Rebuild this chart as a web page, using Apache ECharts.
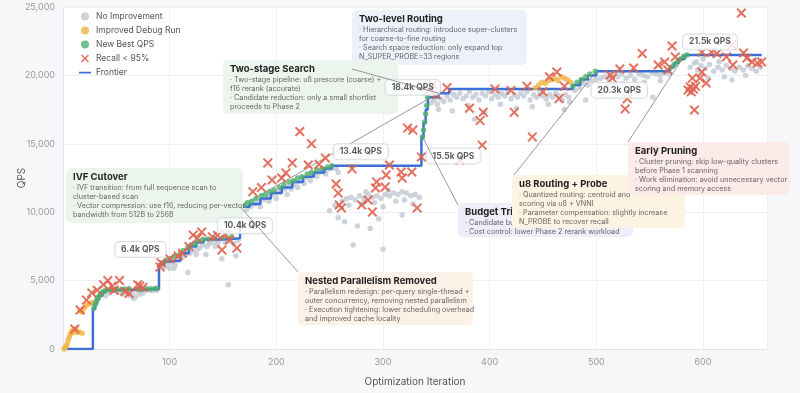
<!DOCTYPE html>
<html><head><meta charset="utf-8">
<script src="https://cdn.jsdelivr.net/npm/echarts@6/dist/echarts.min.js"></script>
<style>html,body{margin:0;padding:0;background:#f6f7f9}#c{width:800px;height:393px}</style>
</head><body><div id="c"></div><script>
// ---------- DATA ----------
const frontier=[[3,0],[28,2900],[30,3300],[32,3600],[34,3900],[37,4150],[40,4300],[48,4380],[90,6200],[95,6400],[100,6450],[110,7000],[118,7500],[125,7800],[132,8000],[150,8100],[166,10400],[175,10600],[185,11000],[195,11400],[205,11800],[215,12200],[225,12600],[235,12900],[245,13200],[252,13400],[336,15500],[338,16500],[340,17500],[342,18400],[352,18700],[362,19000],[478,19300],[485,19700],[492,20000],[500,20300],[569,20600],[573,20900],[577,21200],[583,21500],[655,21500]];
const newBest=[[29,3000],[30,3250],[31,3450],[32,3650],[33,3800],[35,3950],[36,4100],[38,4200],[40,4300],[44,4350],[47,4300],[50,4400],[55,4350],[58,4380],[62,4400],[70,4380],[74,4350],[78,4400],[82,4400],[86,4420],[88,4420],[93,6300],[97,6500],[101,6600],[105,6800],[110,7000],[113,7200],[117,7400],[120,7600],[123,7700],[127,7850],[131,8000],[136,8050],[142,8100],[150,8150],[158,8200],[170,10500],[173,10700],[177,10800],[181,11000],[186,11200],[190,11300],[194,11500],[198,11600],[203,11800],[207,12000],[212,12200],[216,12300],[220,12500],[224,12600],[229,12800],[233,12900],[238,13100],[243,13200],[248,13300],[252,13400],[337,15500],[338,16000],[339,16600],[340,17200],[341,17800],[342,18400],[478,19200],[482,19500],[486,19700],[490,19900],[494,20100],[499,20300],[570,20600],[573,20800],[576,21000],[579,21200],[582,21400],[585,21500]];
const debugRun=[[1,0],[2,100],[3,200],[4,400],[5,700],[6,900],[7,1100],[8,1300],[9,1200],[10,1400],[12,1500],[13,1200],[15,1250],[16,2800],[18,2700],[20,3000],[22,3200],[25,3300],[27,3400],[18,1150],[443,19100],[446,19300],[449,19500],[452,19400],[455,19600],[458,19700],[461,19800],[464,19600],[467,19900],[470,19800],[473,19700],[476,19500]];
const noImprove=[[36,4000],[40,3900],[43,4100],[45,4200],[52,4150],[56,4000],[60,4100],[63,3900],[65,4050],[68,3800],[70,4200],[72,4000],[75,4100],[80,4300],[84,4250],[88,4300],[66,3700],[50,4250],
[95,6000],[98,6200],[102,6300],[104,5900],[108,6500],[112,6700],[115,6900],[117,5600],[119,7000],[122,7200],[125,6900],[128,7400],[131,7600],[134,6900],[137,7700],[140,7800],[143,7500],[146,7900],[149,6600],[152,7800],[155,4700],[157,7900],[160,7700],[162,6800],[164,7950],[126,7300],[135,7500],[145,7700],[154,7850],[105,6100],[100,5900],
[172,10200],[176,10400],[180,10600],[184,10700],[188,10900],[192,11100],[196,11300],[200,11400],[204,11500],[208,11700],[212,11900],[216,12000],[220,12200],[224,12400],[228,12500],[232,12700],[236,12800],[240,12900],[244,13000],[248,13100],[252,13200],[200,11000],[214,11700],[226,12100],[238,12600],[246,12800],[185,10400],[193,10800],[210,11300],[220,11800],[232,12300],[241,13000],[256,13200],[258,12900],
[262,10800],[266,11000],[270,11100],[274,10900],[278,11200],[282,11000],[286,11300],[290,11100],[294,11200],[298,11000],[302,11300],[306,11200],[310,11400],[314,11300],[318,11500],[322,11400],[326,11200],[330,11300],[334,11100],[268,10500],[280,10600],[292,10700],[300,10400],[312,10800],[320,10900],[328,10600],[258,9600],[264,9300],[276,9000],[288,8800],[296,9500],[318,9800],[272,7600],[300,7300],[250,10100],[255,10500],[284,11500],[305,11600],
[345,18000],[348,18200],[351,17900],[354,18300],[357,18100],[360,18500],[363,18200],[366,18600],[369,18400],[372,18700],[375,18300],[378,18500],[381,18800],[384,18400],[387,18600],[390,18200],[393,18700],[396,18500],[399,18800],[402,18300],[405,18600],[408,18400],[411,18700],[414,18500],[417,18800],[420,18300],[423,18600],[426,18400],[429,18700],[432,18500],[435,18800],[438,18200],[441,18600],[444,18400],[447,18700],[450,18500],[453,18300],[456,18600],[459,18400],[462,18700],[465,18500],[468,18200],[471,18600],[474,18400],[352,17500],[365,17400],[380,17800],[395,17300],[410,17900],[425,17600],[440,17700],[455,17900],[470,17500],[386,16800],
[480,18900],[484,19100],[488,19400],[492,19300],[496,19600],[500,19700],[504,19800],[508,19900],[512,19700],[516,20000],[520,19900],[524,20100],[528,19800],[532,20000],[536,19700],[540,20100],[544,20000],[548,19900],[552,20200],[556,20100],[560,20000],[564,20200],[568,20100],[539,19300],[553,18400],[475,18050],[510,19300],[525,19400],[545,19500],[560,19600],[505,18600],[490,18200],
[588,20600],[592,20900],[595,20400],[598,20700],[602,20500],[606,20800],[610,20300],[614,20600],[618,20400],[622,20700],[626,20500],[630,20300],[634,20600],[638,20400],[642,20700],[646,20500],[650,20300],[654,20600],[627,19660],[620,19900],[605,19800],[640,20000],[594,20980],[615,21000],[600,21200]];
const lowRecall=[[11,1460],[16,2850],[22,3580],[27,4100],[32,4300],[38,4700],[42,5000],[46,4600],[53,5000],[48,4300],[58,4200],[62,4050],[72,4600],[75,4500],[70,4700],
[91,6000],[92,6300],[100,6600],[108,6800],[112,7000],[118,7500],[122,8330],[126,8100],[130,8550],[140,8200],[145,8300],[149,7240],[156,7970],[163,7380],[152,8400],
[186,11800],[196,12350],[209,12870],[215,13600],[222,15900],[230,13450],[246,13960],[256,12060],[258,11400],[259,10530],[261,10310],[271,13160],[280,10530],[286,10890],[290,10010],[293,11770],[294,12210],[302,11840],[303,12720],[306,13450],[317,12940],[318,12500],[327,12940],[332,10310],[328,16000],[336,14040],[192,13600],[233,15000],[178,11500],[205,12500],[240,13500],
[323,16150],[343,18900],[347,19300],[350,18600],[372,13800],[381,17600],[391,16700],[393,14900],[394,17300],[423,17300],[440,15500],[456,19900],[465,18300],[360,19100],[405,19000],[420,18900],[435,19200],[450,18800],[470,19200],
[463,20250],[513,20030],[515,19800],[522,20470],[527,17550],[529,18300],[535,20540],[543,21600],[558,20760],[564,20980],[567,20400],[571,22150],[574,21350],
[586,18930],[588,19150],[590,19800],[591,19000],[592,17470],[589,18800],[593,19200],[597,19800],[599,20250],[599,21700],[603,19440],[608,21700],[613,21600],[622,21350],[627,22220],[628,20760],[636,24560],[638,21640],[641,21270],[646,20980],[651,20900],[655,20980]];
const milestones=[[95,6400,'6.4k QPS'],[166,10400,'10.4k QPS'],[252,13400,'13.4k QPS'],[337,15500,'15.5k QPS'],[342,18400,'18.4k QPS'],[500,20300,'20.3k QPS'],[585,21500,'21.5k QPS']];
const seriesNames=['No Improvement','Improved Debug Run','New Best QPS','Recall < 95%','Frontier'];
const annotations=[
 {title:'Two-level Routing',lines:['· Hierarchical routing: introduce super-clusters','for coarse-to-fine routing','· Search space reduction: only expand top','N_SUPER_PROBE=33 regions'],target:null},
 {title:'Two-stage Search',lines:['· Two-stage pipeline: u8 prescore (coarse) +','f16 rerank (accurate)','· Candidate reduction: only a small shortlist','proceeds to Phase 2'],target:[352,18700]},
 {title:'IVF Cutover',lines:['· IVF transition: from full sequence scan to','cluster-based scan','· Vector compression: use f16, reducing per-vector','bandwidth from 512B to 256B'],target:[352,18700]},
 {title:'Nested Parallelism Removed',lines:['· Parallelism redesign: per-query single-thread +','outer concurrency, removing nested parallelism','· Execution tightening: lower scheduling overhead','and improved cache locality'],target:[166,10400]},
 {title:'Budget Trimming',lines:['· Candidate budget: smaller Phase 2 shortlist','· Cost control: lower Phase 2 rerank workload'],target:[337,15500]},
 {title:'u8 Routing + Probe',lines:['· Quantized routing: centroid and','scoring via u8 + VNNI','· Parameter compensation: slightly increase','N_PROBE to recover recall'],target:[500,20300]},
 {title:'Early Pruning',lines:['· Cluster pruning: skip low-quality clusters','before Phase 1 scanning','· Work elimination: avoid unnecessary vector','scoring and memory access'],target:[583,21500]}
];
// ---------- LAYOUT / STYLE ----------
const boxLayout=[
 {x:352,y:10,w:175,h:55,fill:'#edf1fa',anchor:null},
 {x:223,y:60,w:175,h:54,fill:'#ecf5ed',anchor:[352,69],lineZ:40},
 {x:66,y:168,w:177,h:55,fill:'#ecf5ed',anchor:[243,205],lineZ:1},
 {x:298,y:272,w:175,h:53,fill:'#fcf1e6',anchor:[298,272],lineZ:40},
 {x:458,y:203,w:175,h:34,fill:'#efedf9',anchor:[458,205],lineZ:40},
 {x:512,y:175,w:173,h:53,fill:'#fdf3e2',anchor:[514,175],lineZ:40},
 {x:628,y:142,w:162,h:53,fill:'#fcebe8',anchor:[628,142],lineZ:40}
];
const labelOffsets=[[-24,-12],[5,19],[29,-14],[31,19],[-15,-10],[23,19],[23,-13]];
const FONT='Inter, "Noto Sans", sans-serif';
const X_SYM='path://M1.4,0L5,3.6L8.6,0L10,1.4L6.4,5L10,8.6L8.6,10L5,6.4L1.4,10L0,8.6L3.6,5L0,1.4Z';
const LINE_ICON='path://M0,0L0.01,0L0.01,0.01Z M0,8L0.01,8L0.01,7.99Z M0,3L14,3L14,5.2L0,5.2Z';

const chart=echarts.init(document.getElementById('c'));
chart.setOption({
 animation:false,
 backgroundColor:'#f6f7f9',
 textStyle:{fontFamily:FONT},
 grid:{left:63,right:33,top:7,bottom:44,show:true,backgroundColor:'#ffffff',borderWidth:0,containLabel:false,outerBoundsMode:'none'},
 legend:{orient:'vertical',left:79,top:12,padding:0,itemWidth:12,itemHeight:8,itemGap:5,
  textStyle:{fontSize:8.5,color:'#555',fontFamily:FONT},
  data:[{name:seriesNames[0],icon:'circle'},{name:seriesNames[1],icon:'circle'},{name:seriesNames[2],icon:'circle'},{name:seriesNames[3],icon:X_SYM},{name:seriesNames[4],icon:LINE_ICON}]},
 xAxis:{type:'value',min:0,max:660,interval:100,name:'Optimization Iteration',nameLocation:'middle',nameGap:28,
  nameTextStyle:{fontSize:10,color:'#555'},
  axisLine:{lineStyle:{color:'#dfe4ea'}},axisTick:{show:false},
  axisLabel:{color:'#999',fontSize:9,showMinLabel:false,showMaxLabel:false,margin:9},
  splitLine:{lineStyle:{color:'#eef0f3'}}},
 yAxis:{type:'value',min:0,max:25000,interval:5000,name:'QPS',nameLocation:'middle',nameGap:36,nameMoveOverlap:false,
  nameTextStyle:{fontSize:10,color:'#555'},
  axisLine:{show:true,lineStyle:{color:'#dfe4ea'}},axisTick:{show:false},
  axisLabel:{color:'#999',fontSize:9,formatter:v=>v.toLocaleString('en-US'),margin:8},
  splitLine:{lineStyle:{color:'#eef0f3'}}},
 series:[
  {name:seriesNames[0],type:'scatter',data:noImprove,symbolSize:5.5,itemStyle:{color:'#c8cdd7',opacity:0.9},z:2},
  {name:seriesNames[4],type:'line',data:frontier,step:'end',showSymbol:false,lineStyle:{color:'#3d6fd6',width:2.5},itemStyle:{color:'#3d6fd6'},z:3},
  {name:seriesNames[1],type:'scatter',data:debugRun,symbolSize:5.5,itemStyle:{color:'#efb443'},z:4},
  {name:seriesNames[2],type:'scatter',data:newBest,symbolSize:5.5,itemStyle:{color:'#4daf6b'},z:5},
  {name:seriesNames[3],type:'scatter',data:lowRecall,symbol:X_SYM,symbolSize:10,itemStyle:{color:'#e0624f',opacity:0.9},z:6},
  {name:'milestones',type:'scatter',data:milestones.map((m,i)=>({value:[m[0],m[1]],name:m[2],label:{offset:labelOffsets[i]}})),
   symbolSize:0,silent:true,z:30,
   label:{show:true,position:'inside',formatter:p=>p.name,fontSize:8.5,fontWeight:'bold',color:'#333',
    backgroundColor:'#fff',borderColor:'#cfd4db',borderWidth:1,borderRadius:4,padding:[3,6]}}
 ]
});

// annotation boxes and leader lines
const g=[];
annotations.forEach((a,i)=>{
 const b=boxLayout[i], z=10+i*3;
 g.push({type:'rect',shape:{x:b.x,y:b.y,width:b.w,height:b.h,r:5},style:{fill:b.fill},z:z});
 g.push({type:'text',x:b.x+7,y:b.y+4.5,style:{text:a.title,font:'bold 9.5px '+FONT,fill:'#222'},z:z+1});
 g.push({type:'text',x:b.x+7,y:b.y+15,style:{text:a.lines.join('\n'),font:'7.2px '+FONT,fill:'#666',lineHeight:9.2},z:z+1});
 if(a.target&&b.anchor){
  const p=chart.convertToPixel({gridIndex:0},a.target);
  g.push({type:'line',shape:{x1:b.anchor[0],y1:b.anchor[1],x2:p[0],y2:p[1]},style:{stroke:'#7d7d7d',lineWidth:0.8},z:b.lineZ});
 }
});
chart.setOption({graphic:g});
</script></body></html>
